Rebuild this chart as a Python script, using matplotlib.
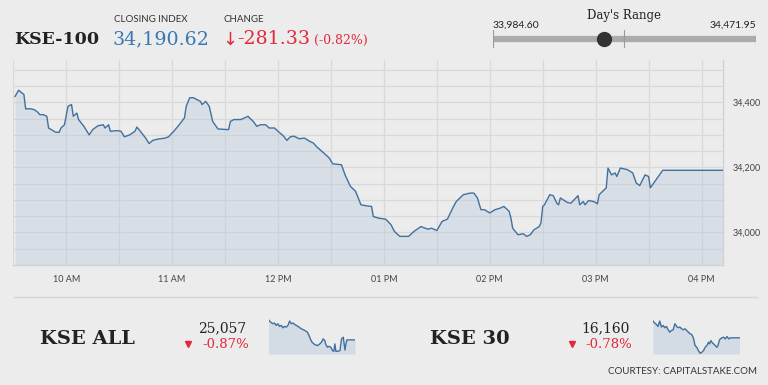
import matplotlib
matplotlib.use("Agg")
import matplotlib.pyplot as plt
from matplotlib.lines import Line2D
import numpy as np

# ---------------- data ----------------
times = ["09:31","09:33","09:36","09:37","09:40","09:42","09:44","09:45","09:47","09:49",
         "09:50","09:54","09:56","09:57","09:59","10:01","10:03","10:04","10:06","10:07",
         "10:10","10:13","10:15","10:18","10:21","10:22","10:24","10:25","10:29","10:31",
         "10:33","10:36","10:39","10:40","10:42","10:45","10:47","10:49","10:52","10:56",
         "10:58","11:00","11:01","11:04","11:07","11:08","11:10","11:12","11:16","11:17",
         "11:19","11:21","11:23","11:26","11:32","11:33","11:35","11:39","11:43","11:46",
         "11:48","11:50","11:53","11:55","11:58","12:00","12:03","12:05","12:07","12:09",
         "12:12","12:15","12:18","12:20","12:22","12:26","12:29","12:31","12:36","12:38",
         "12:41","12:44","12:47","12:50","12:53","12:54","12:57","13:01","13:04","13:06",
         "13:09","13:14","13:17","13:21","13:25","13:27","13:30","13:33","13:36","13:39",
         "13:41","13:45","13:49","13:51","13:53","13:55","13:57","14:00","14:03","14:06",
         "14:08","14:11","14:12","14:13","14:16","14:19","14:21","14:23","14:25","14:28",
         "14:29","14:30","14:31","14:34","14:36","14:38","14:39","14:40","14:44","14:46",
         "14:50","14:51","14:53","14:54","14:56","14:59","15:01","15:02","15:06","15:07",
         "15:09","15:11","15:12","15:14","15:18","15:21","15:23","15:25","15:28","15:30",
         "15:31","15:38","16:12"]
values = [34418,34437,34424,34380,34380,34377,34369,34362,34362,34357,
          34321,34308,34308,34321,34331,34388,34393,34357,34367,34347,
          34326,34300,34316,34328,34331,34321,34331,34311,34313,34311,
          34294,34300,34311,34324,34311,34290,34273,34283,34287,34290,
          34294,34306,34311,34331,34352,34388,34414,34414,34403,34393,
          34403,34388,34341,34318,34316,34341,34347,34347,34357,34341,
          34326,34331,34331,34321,34321,34311,34297,34283,34294,34296,
          34288,34290,34280,34275,34263,34244,34229,34211,34208,34177,
          34142,34126,34085,34082,34080,34049,34044,34041,34024,34003,
          33988,33988,34003,34018,34010,34013,34006,34034,34041,34075,
          34095,34116,34121,34121,34106,34070,34070,34060,34070,34075,
          34080,34065,34044,34013,33993,33996,33988,33993,34008,34018,
          34029,34080,34085,34116,34113,34090,34085,34106,34092,34090,
          34113,34085,34095,34085,34098,34095,34088,34116,34137,34198,
          34177,34183,34172,34198,34193,34183,34152,34144,34177,34172,
          34137,34191,34191]

hour_ticks = [10, 11, 12, 13, 14, 15, 16]
hour_labels = ["10 AM", "11 AM", "12 PM", "01 PM", "02 PM", "03 PM", "04 PM"]
y_ticks = [34000, 34200, 34400]
y_labels = ["34,000", "34,200", "34,400"]

index_name = "KSE-100"
closing_index = "34,190.62"
change = "-281.33"
change_pct = "(-0.82%)"
close_value = 34190.62
day_low = 33984.60
day_high = 34471.95

# sparklines (relative position along session, relative level)
spark1_t = [12,18,25,30,35,40,45,50,55,60,65,70,75,80,85,90,100,110,120,128,133,138,142,150,
            158,165,170,175,180,183,188,192,198,203,207,210,213,218,225,230,235,240,243,246,255,270]
spark1_v = [102,95,90,92,85,90,82,85,78,82,80,85,98,90,92,88,82,75,70,65,55,42,35,28,
            25,30,35,45,40,28,20,23,20,10,8,30,8,8,10,45,50,12,30,42,42,42]
spark2_t = [15,20,25,30,35,40,45,50,55,60,65,70,75,80,85,90,95,100,105,110,115,120,125,130,
            135,140,145,150,155,160,165,170,175,180,183,187,190,195,200,205,208,212,215,220,
            225,230,235,240,245,250,272]
spark2_v = [98,92,88,82,98,80,85,78,82,72,65,70,72,90,82,78,80,75,72,75,70,65,60,58,
            48,25,20,10,2,5,10,20,25,35,30,40,35,30,25,20,25,40,45,48,
            50,45,52,45,48,48,48]

others = [
    dict(name="KSE ALL", value="25,057", pct="-0.87%", t=spark1_t, v=spark1_v),
    dict(name="KSE 30", value="16,160", pct="-0.78%", t=spark2_t, v=spark2_v),
]

# ---------------- style ----------------
W, H = 768, 385
BG = "#ececec"
LINE = "#41709f"
FILL = "#b8c9dc"
FILL_ALPHA = 0.38
GRID = "#d9d9d9"
RED = "#e4283a"
BLUE = "#3a78b5"
DARK = "#222222"
SERIF = ["DejaVu Serif", "DejaVu Sans"]
SANS = ["Lato", "DejaVu Sans"]

def fx(x):
    return x / W

def fy(y):
    return 1 - y / H

fig = plt.figure(figsize=(W / 100, H / 100), dpi=100)
fig.patch.set_facecolor(BG)

# ---------------- header ----------------
fig.text(fx(14), fy(44), index_name, family=SERIF, weight="bold", size=12.5, color=DARK, va="baseline")
fig.text(fx(114), fy(21.5), "CLOSING INDEX", family=SANS, size=7, color="#333333", va="baseline")
fig.text(fx(113), fy(44.5), closing_index, family=SERIF, size=13.7, color=BLUE, va="baseline")
fig.text(fx(224), fy(21.5), "CHANGE", family=SANS, size=7, color="#333333", va="baseline")
fig.text(fx(222), fy(44.5), "\u2193", family=["DejaVu Sans"], size=13, color=RED, va="baseline")
fig.text(fx(237), fy(44.5), change, family=SERIF, size=13.7, color=RED, va="baseline")
fig.text(fx(314), fy(44), change_pct, family=SERIF, size=9, color=RED, va="baseline")

# day's range slider
rax = fig.add_axes([fx(493), fy(50), fx(756) - fx(493), 20 / H])
rax.set_xlim(day_low, day_high)
rax.set_ylim(0, 1)
rax.axis("off")
rax.plot([day_low, day_high], [0.55, 0.55], color="#ababab", lw=4.5, solid_capstyle="butt")
mid = (day_low + day_high) / 2
for xv in (day_low, mid, day_high):
    rax.plot([xv, xv], [0.15, 0.98], color="#9a9a9a", lw=0.8)
rax.plot([close_value], [0.55], "o", color="#333333", ms=10, zorder=5)
fig.text(fx(624), fy(18.5), "Day's Range", family=SERIF, size=8.5, color=DARK, ha="center", va="baseline")
fig.text(fx(493), fy(27.5), f"{day_low:,.2f}", family=SANS, size=7.5, color=DARK, va="baseline")
fig.text(fx(756), fy(27.5), f"{day_high:,.2f}", family=SANS, size=7.5, color=DARK, ha="right", va="baseline")

# ---------------- main chart ----------------
hours = np.array([int(t[:2]) + int(t[3:]) / 60 for t in times])
ax = fig.add_axes([fx(13.3), fy(265), fx(722.7) - fx(13.3), (265 - 60) / H])
ax.set_facecolor(BG)
ax.fill_between(hours, values, 33900, color=FILL, alpha=FILL_ALPHA, lw=0, zorder=2)
ax.plot(hours, values, color=LINE, lw=1.0, zorder=3)
ax.set_xlim(hours[0], hours[-1])
ax.set_ylim(33900, 34530)
ax.set_xticks(hour_ticks)
ax.set_xticklabels(hour_labels)
ax.set_xticks(np.arange(9.5, 16.3, 0.5), minor=True)
ax.set_yticks(y_ticks)
ax.set_yticklabels(y_labels)
ax.set_yticks(np.arange(33950, 34530, 50), minor=True)
ax.yaxis.tick_right()
ax.grid(True, which="both", color=GRID, lw=0.9, zorder=1)
ax.set_axisbelow(True)
ax.tick_params(axis="both", which="both", length=0)
ax.tick_params(axis="x", pad=7, labelsize=6.5, labelcolor="#444444")
ax.tick_params(axis="y", pad=7, labelsize=6.5, labelcolor="#444444")
for lab in ax.get_xticklabels() + ax.get_yticklabels():
    lab.set_family(SANS)
for s in ("top", "left"):
    ax.spines[s].set_visible(False)
for s in ("bottom", "right"):
    ax.spines[s].set_color("#d2d2d2")
    ax.spines[s].set_linewidth(1)

# separator
fig.add_artist(Line2D([fx(14), fx(757)], [fy(296.5), fy(296.5)], color="#d6d6d6", lw=1))

# ---------------- other indices ----------------
name_x = [40, 430]
num_right = [246.5, 630]
tri_x = [188.3, 572]
spark_box = [(268.5, 355), (653, 739.5)]
for i, o in enumerate(others):
    fig.text(fx(name_x[i]), fy(344), o["name"], family=SERIF, weight="bold", size=14, color=DARK, va="baseline")
    fig.text(fx(num_right[i]), fy(332.5), o["value"], family=SERIF, size=10, color=DARK, ha="right", va="baseline")
    fig.text(fx(num_right[i] + 2.5), fy(347.5), o["pct"], family=SERIF, size=9.5, color=RED, ha="right", va="baseline")
    fig.add_artist(Line2D([fx(tri_x[i])], [fy(344.3)], marker="v", color=RED, ms=4, ls="none"))
    x0, x1 = spark_box[i]
    sax = fig.add_axes([fx(x0), fy(354), fx(x1) - fx(x0), (354 - 317) / H])
    sax.fill_between(o["t"], o["v"], 0, color=FILL, alpha=FILL_ALPHA + 0.1, lw=0)
    sax.plot(o["t"], o["v"], color=LINE, lw=1.0)
    sax.set_xlim(min(o["t"]), max(o["t"]))
    sax.set_ylim(0, 110)
    sax.axis("off")

fig.text(fx(756.5), fy(374), "COURTESY: CAPITALSTAKE.COM", family=SANS, size=7, color="#333333", ha="right", va="baseline")

fig.savefig("out.png", dpi=100, facecolor=BG)
